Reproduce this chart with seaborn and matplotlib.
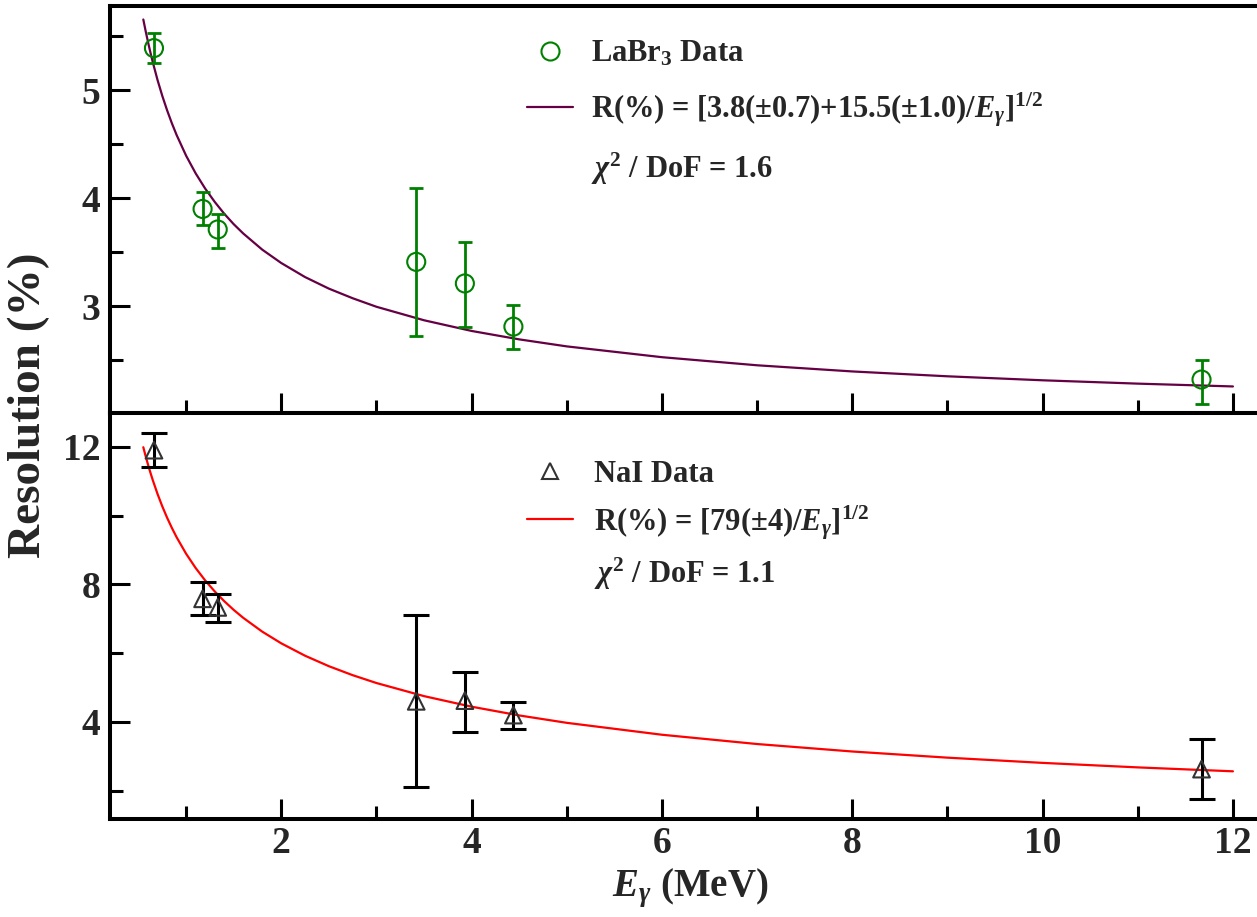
import numpy as np
import matplotlib
matplotlib.use("Agg")
import matplotlib.pyplot as plt
from matplotlib.lines import Line2D
from matplotlib.ticker import MultipleLocator
import seaborn as sns

# ---------------- data ----------------
energy = [0.662, 1.173, 1.332, 3.418, 3.929, 4.439, 11.67]

labr_res = [5.39, 3.90, 3.71, 3.41, 3.21, 2.81, 2.32]
labr_lo = [5.25, 3.75, 3.54, 2.72, 2.81, 2.60, 2.09]
labr_hi = [5.53, 4.06, 3.85, 4.09, 3.59, 3.01, 2.50]

nai_res = [11.90, 7.58, 7.33, 4.60, 4.62, 4.20, 2.63]
nai_lo = [11.41, 7.10, 6.92, 2.11, 3.71, 3.80, 1.76]
nai_hi = [12.40, 8.06, 7.71, 7.11, 5.45, 4.58, 3.50]

fit_energy = [0.55, 0.575, 0.6, 0.625, 0.65, 0.7, 0.75, 0.8, 0.85, 0.9, 1.0,
              1.1, 1.2, 1.3, 1.4, 1.5, 1.6, 1.8, 2.0, 2.25, 2.5, 2.75, 3.0,
              3.5, 4.0, 4.5, 5.0, 6.0, 7.0, 8.0, 9.0, 10.0, 11.0, 12.0]
labr_fit = [5.655, 5.546, 5.444, 5.348, 5.258, 5.093, 4.946, 4.814, 4.694,
            4.585, 4.393, 4.230, 4.089, 3.966, 3.856, 3.759, 3.673, 3.523,
            3.399, 3.269, 3.162, 3.073, 2.994, 2.869, 2.770, 2.692, 2.627,
            2.527, 2.452, 2.395, 2.350, 2.313, 2.282, 2.256]
nai_fit = [11.985, 11.721, 11.475, 11.243, 11.025, 10.623, 10.263, 9.937,
           9.641, 9.369, 8.888, 8.475, 8.114, 7.795, 7.512, 7.257, 7.027,
           6.625, 6.285, 5.925, 5.621, 5.360, 5.132, 4.751, 4.444, 4.190,
           3.975, 3.629, 3.359, 3.142, 2.963, 2.811, 2.680, 2.566]

labr_labels = ["LaBr$_3$ Data",
               "R(%) = [3.8(±0.7)+15.5(±1.0)/$E_\\gamma$]$^{1/2}$",
               "$\\chi^2$ / DoF = 1.6"]
nai_labels = ["NaI Data",
              "R(%) = [79(±4)/$E_\\gamma$]$^{1/2}$",
              "$\\chi^2$ / DoF = 1.1"]

GREEN = "#008000"
PURPLE = "#660044"
RED = "#ff0000"
TRI = "#333333"

# ---------------- style ----------------
sns.set_style("white")
plt.rcParams["font.family"] = ["Liberation Serif", "DejaVu Serif"]
plt.rcParams["font.weight"] = "bold"
plt.rcParams["mathtext.fontset"] = "custom"
plt.rcParams["mathtext.rm"] = "Liberation Serif:bold"
plt.rcParams["mathtext.it"] = "Liberation Serif:italic:bold"
plt.rcParams["mathtext.bf"] = "Liberation Serif:bold"
plt.rcParams["mathtext.default"] = "it"

W, H = 1257, 917
fig = plt.figure(figsize=(W / 100, H / 100), dpi=100)

left_px, right_px = 110, 1271
top_px, mid_px, bot_px = 6, 413, 819
ax1 = fig.add_axes([left_px / W, 1 - mid_px / H, (right_px - left_px) / W, (mid_px - top_px) / H])
ax2 = fig.add_axes([left_px / W, 1 - bot_px / H, (right_px - left_px) / W, (bot_px - mid_px) / H])

# ---------------- top: LaBr3 ----------------
sns.lineplot(x=fit_energy, y=labr_fit, ax=ax1, color=PURPLE, lw=1.6, legend=False)
e = np.array(energy)
r = np.array(labr_res)
ax1.errorbar(e, r, yerr=[r - np.array(labr_lo), np.array(labr_hi) - r], fmt="none",
             ecolor=GREEN, elinewidth=2.0, capsize=5.2, capthick=2.0, zorder=3)
sns.scatterplot(x=energy, y=labr_res, ax=ax1, marker="o", s=13 ** 2,
                facecolor="none", edgecolor=GREEN, linewidth=1.5, zorder=4, legend=False)

# ---------------- bottom: NaI ----------------
sns.lineplot(x=fit_energy, y=nai_fit, ax=ax2, color=RED, lw=1.6, legend=False)
r2 = np.array(nai_res)
ax2.errorbar(e, r2, yerr=[r2 - np.array(nai_lo), np.array(nai_hi) - r2], fmt="none",
             ecolor="black", elinewidth=2.2, capsize=9.6, capthick=2.2, zorder=3)
sns.scatterplot(x=energy, y=nai_res, ax=ax2, marker="^", s=12 ** 2,
                facecolor="none", edgecolor=TRI, linewidth=1.5, zorder=4, legend=False)

# ---------------- axes ----------------
for ax in (ax1, ax2):
    ax.set_xlim(0.2, 12.4)
    ax.xaxis.set_major_locator(MultipleLocator(2))
    ax.xaxis.set_minor_locator(MultipleLocator(1))
    ax.tick_params(which="both", direction="in", bottom=True, left=True,
                   top=False, right=False, width=2.2, color="black", labelsize=27)
    ax.tick_params(which="major", length=14.5)
    ax.tick_params(which="minor", length=9.5)
    ax.tick_params(axis="y", pad=7)
    ax.tick_params(axis="x", pad=5)
    for s in ax.spines.values():
        s.set_linewidth(2.9)
        s.set_color("black")
    ax.spines["right"].set_visible(False)
    ax.set_xlabel("")
    ax.set_ylabel("")

ax1.set_ylim(2.01, 5.78)
ax1.yaxis.set_major_locator(MultipleLocator(1))
ax1.yaxis.set_minor_locator(MultipleLocator(0.5))
ax1.tick_params(labelbottom=False)

ax2.set_ylim(1.18, 12.98)
ax2.yaxis.set_major_locator(MultipleLocator(4))
ax2.yaxis.set_minor_locator(MultipleLocator(2))

ax2.set_xlabel("$E_\\gamma$ (MeV)", fontsize=28, fontweight="bold", labelpad=4)
fig.text(29 / W, 1 - 405 / H, "Resolution (%)", rotation=90, ha="center", va="center",
         fontsize=34, fontweight="bold")

# ---------------- legends ----------------
h1 = [Line2D([], [], ls="none", marker="o", ms=13, mfc="none", mec=GREEN, mew=1.5),
      Line2D([], [], color=PURPLE, lw=1.6),
      Line2D([], [], ls="none")]
ax1.legend(h1, labr_labels, loc="upper left", bbox_to_anchor=(0.359, 0.918),
           frameon=False, fontsize=22, handlelength=1.5, handletextpad=0.6,
           labelspacing=0.7, borderpad=0, borderaxespad=0)

h2 = [Line2D([], [], ls="none", marker="^", ms=12, mfc="none", mec=TRI, mew=1.5),
      Line2D([], [], color=RED, lw=1.6),
      Line2D([], [], ls="none")]
ax2.legend(h2, nai_labels, loc="upper left", bbox_to_anchor=(0.359, 0.884),
           frameon=False, fontsize=22, handlelength=1.5, handletextpad=0.7,
           labelspacing=0.45, borderpad=0, borderaxespad=0)

fig.savefig("out.png", dpi=100)
